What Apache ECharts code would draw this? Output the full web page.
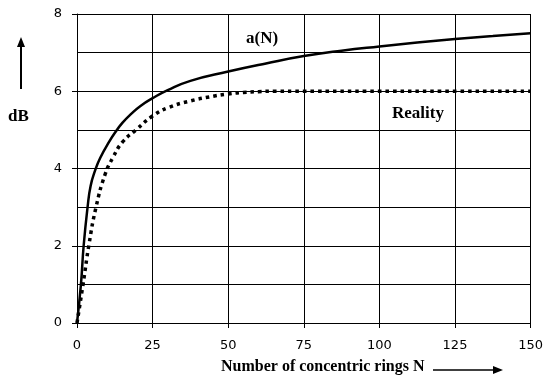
<!DOCTYPE html>
<html>
<head>
<meta charset="utf-8">
<script src="https://cdn.jsdelivr.net/npm/echarts@6/dist/echarts.min.js"></script>
<style>html,body{margin:0;padding:0;background:#fff}#c{width:546px;height:380px}</style>
</head>
<body>
<div id="c"></div>
<script>
// a(N) curve
const nA = [0,1.3,2.2,3.5,4.5,6,7.7,10.7,12.6,15,18,21,25,30,37.5,50,62.5,75,87.5,100,112.5,125,137.5,150];
const aN = [0,1.0,2.0,3.0,3.55,3.95,4.28,4.7,4.93,5.18,5.42,5.62,5.82,6.03,6.27,6.51,6.72,6.91,7.05,7.16,7.26,7.35,7.43,7.5];
// Reality curve
const nR = [0,2,4,6.3,9.3,12,15,19.5,25,30,37.5,45,50,55,60,65,75,100,125,150];
const rV = [0,1.0,2.05,3.0,3.85,4.3,4.68,5.0,5.36,5.57,5.75,5.87,5.93,5.97,5.99,6.0,6.0,6.0,6.0,6.0];
const xTicks = [0,25,50,75,100,125,150];
const yTicks = [0,2,4,6,8];

const chart = echarts.init(document.getElementById('c'), null, {renderer:'canvas'});
const serif = 'Liberation Serif, Times New Roman, serif';
chart.setOption({
  animation:false,
  backgroundColor:'#fff',
  grid:{left:77, right:13, top:14, bottom:57},
  xAxis:{
    type:'value', min:xTicks[0], max:xTicks[xTicks.length-1], interval:25,
    axisLine:{show:true, lineStyle:{color:'#000', width:1}},
    axisTick:{show:true, length:5, lineStyle:{color:'#000'}},
    axisLabel:{color:'#000', fontFamily:'DejaVu Sans', fontSize:13, margin:16},
    splitLine:{show:true, lineStyle:{color:'#000', width:1}}
  },
  yAxis:{
    type:'value', min:yTicks[0], max:yTicks[yTicks.length-1], interval:2,
    axisLine:{show:true, lineStyle:{color:'#000', width:1}},
    axisTick:{show:true, length:5, lineStyle:{color:'#000'}},
    axisLabel:{color:'#000', fontFamily:'DejaVu Sans', fontSize:13, margin:15},
    splitLine:{show:true, lineStyle:{color:'#000', width:1}},
    minorTick:{show:false, splitNumber:2},
    minorSplitLine:{show:true, lineStyle:{color:'#000', width:1}}
  },
  series:[
    {type:'line', name:'a(N)', data:nA.map((n,i)=>[n,aN[i]]), smooth:0.5, showSymbol:false,
     lineStyle:{color:'#000', width:2.5}},
    {type:'line', name:'Reality', data:nR.map((n,i)=>[n,rV[i]]), smooth:0.5, showSymbol:false,
     lineStyle:{color:'#000', width:3.5, type:[3.5,4], cap:'butt'}}
  ],
  graphic:[
    {type:'text', left:246, top:30, style:{text:'a(N)', font:'bold 17px '+serif, fill:'#000'}},
    {type:'text', left:392, top:105, style:{text:'Reality', font:'bold 17px '+serif, fill:'#000'}},
    {type:'text', left:8, top:108, style:{text:'dB', font:'bold 17px '+serif, fill:'#000'}},
    {type:'text', left:221, top:359, style:{text:'Number of concentric rings N', font:'bold 16px '+serif, fill:'#000'}},
    {type:'line', shape:{x1:21, y1:89, x2:21, y2:45}, style:{stroke:'#000', lineWidth:2}},
    {type:'polygon', shape:{points:[[21,37],[17,47],[25,47]]}, style:{fill:'#000'}},
    {type:'line', shape:{x1:433, y1:370, x2:495, y2:370}, style:{stroke:'#000', lineWidth:1.5}},
    {type:'polygon', shape:{points:[[503,370],[493,366],[493,374]]}, style:{fill:'#000'}}
  ]
});
</script>
</body>
</html>
